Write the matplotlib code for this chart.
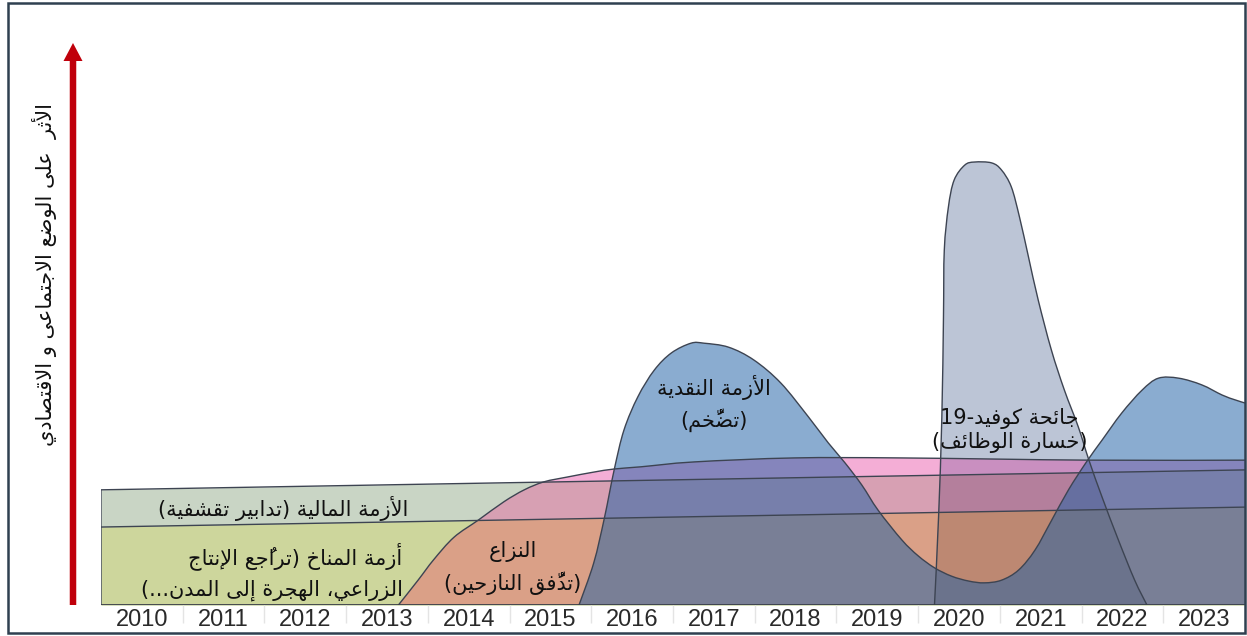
import matplotlib
matplotlib.use("Agg")
import matplotlib.pyplot as plt
from matplotlib.patches import Rectangle, FancyArrow, PathPatch
from matplotlib.path import Path

# ---- data (x in years, y = impact, arbitrary units) ----
years = list(range(2010, 2024))
band_x = [2009.5, 2023.5]

climate_top = [1.76, 2.21]
financial_top = [2.60, 3.05]

conflict_x = [2013.14, 2013.38, 2013.57, 2013.82, 2014.12, 2014.43, 2014.68, 2014.92,
              2015.21, 2015.53, 2015.78, 2016.11, 2016.76, 2017.98, 2019.30, 2021.59, 2023.50]
conflict_y = [0, 0.56, 1.02, 1.53, 1.92, 2.33, 2.60, 2.78,
              2.89, 3.00, 3.07, 3.12, 3.23, 3.32, 3.32, 3.27, 3.27]

monetary_x = [2015.35, 2015.53, 2015.66, 2015.78, 2015.90, 2016.07, 2016.27, 2016.48,
              2016.72, 2016.88, 2017.18, 2017.49, 2017.82, 2018.16, 2018.40, 2018.60,
              2018.81, 2019.01, 2019.30, 2019.50, 2019.70, 2019.91, 2020.12, 2020.31,
              2020.52, 2020.73, 2020.93, 2021.13, 2021.34, 2021.56, 2021.75, 2021.99,
              2022.24, 2022.44, 2022.69, 2022.97, 2023.22, 2023.38, 2023.50]
monetary_y = [0, 0.95, 1.96, 3.05, 3.95, 4.70, 5.30, 5.69,
              5.91, 5.91, 5.82, 5.53, 5.01, 4.24, 3.66, 3.22,
              2.71, 2.14, 1.47, 1.11, 0.84, 0.65, 0.54, 0.50,
              0.56, 0.79, 1.24, 1.90, 2.60, 3.23, 3.72, 4.33,
              4.85, 5.12, 5.12, 4.97, 4.74, 4.63, 4.56]

covid_x = [2019.70, 2019.75, 2019.79, 2019.81, 2019.82, 2019.87, 2019.94, 2020.07,
           2020.19, 2020.40, 2020.52, 2020.64, 2020.74, 2020.85, 2020.97, 2021.13,
           2021.29, 2021.46, 2021.59, 2021.75, 2021.95, 2022.15, 2022.30]
covid_y = [0, 1.99, 4.24, 6.50, 8.01, 8.98, 9.59, 9.93,
           10.0, 9.98, 9.82, 9.44, 8.76, 7.86, 6.88, 5.76,
           4.85, 4.02, 3.27, 2.44, 1.47, 0.56, 0]

ylabel = "الأثر  على الوضع الاجتماعى و الاقتصادي"
financial_label = "الأزمة المالية (تدابير تقشفية)"
climate_label = ["أزمة المناخ (تراجُع الإنتاج", "الزراعي، الهجرة إلى المدن...)"]
conflict_label = ["النزاع", "(تدف\u0651\u064fق النازحين)"]
monetary_label = ["الأزمة النقدية", "(تضخ\u0651\u064fم)"]
covid_label = ["جائحة كوفيد-19", "(خسارة الوظائف)"]


# ---- minimal arabic shaping (matplotlib has no bidi / joining) ----
AR_LETTERS = "ءآأؤإئابةتثجحخدذرزسشصضطظعغفقكلمنهوىي"
AR_NFORMS = [1, 2, 2, 2, 2, 4, 2, 4, 2, 4, 4, 4, 4, 4, 2, 2, 2, 2, 4, 4,
             4, 4, 4, 4, 4, 4, 4, 4, 4, 4, 4, 4, 4, 2, 2, 4]
FORMS = {}
code = 0xFE80
for ch, n in zip(AR_LETTERS, AR_NFORMS):
    FORMS[ch] = (code, n)
    code += n
LAMALEF = {"آ": 0xFEF5, "أ": 0xFEF7, "إ": 0xFEF9, "ا": 0xFEFB}


def joins_next(b):
    return b in FORMS and FORMS[b][1] == 4


def joins_prev(b):
    return len(b) == 2 or (b in FORMS and FORMS[b][1] > 1)


def ar(s):
    units = []
    for ch in s:
        if 0x064B <= ord(ch) <= 0x065F and units:
            units[-1][1] += ch
        elif units and units[-1][0] == "ل" and ch in LAMALEF:
            units[-1][0] = "ل" + ch
        else:
            units.append([ch, ""])
    glyphs = []
    for i, (b, marks) in enumerate(units):
        p = i > 0 and joins_next(units[i - 1][0]) and joins_prev(b)
        n = joins_next(b) and i + 1 < len(units) and joins_prev(units[i + 1][0])
        if len(b) == 2:
            g = chr(LAMALEF[b[1]] + p)
        elif b in FORMS:
            c, nf = FORMS[b]
            if nf == 1:
                g = chr(c)
            elif nf == 2:
                g = chr(c + p)
            else:
                g = chr(c + (3 if p and n else 1 if p else 2 if n else 0))
        else:
            g = b
        glyphs.append(g + marks)
    out = []
    for g in glyphs:
        if g.isdigit() and out and out[-1].isdigit():
            out[-1] += g
        else:
            out.append(g)
    mirror = {"(": ")", ")": "("}
    return "".join(mirror.get(t, t) for t in out[::-1])


# smooth curve through the read points (catmull-rom as bezier segments)
def curve(xs, ys):
    pts = list(zip(xs, ys))
    verts, codes = [pts[0]], [Path.MOVETO]
    for i in range(len(pts) - 1):
        p0 = pts[max(i - 1, 0)]
        p1, p2 = pts[i], pts[i + 1]
        p3 = pts[min(i + 2, len(pts) - 1)]
        verts += [(p1[0] + (p2[0] - p0[0]) / 6, p1[1] + (p2[1] - p0[1]) / 6),
                  (p2[0] - (p3[0] - p1[0]) / 6, p2[1] - (p3[1] - p1[1]) / 6), p2]
        codes += [Path.CURVE4] * 3
    return verts, codes


def area(xs, ys):
    v, c = curve(xs, ys)
    v += [(xs[-1], 0), (xs[0], 0), (xs[0], 0)]
    c += [Path.LINETO, Path.LINETO, Path.CLOSEPOLY]
    return Path(v, c)


# ---- figure ----
fig = plt.figure(figsize=(12.47, 6.36), dpi=100)
ax = fig.add_axes([101 / 1247, 31 / 636, 1144 / 1247, 602 / 636])
ax.set_xlim(band_x)
ax.set_ylim(0, 13.59)

edge = "#3d4452"

fin = ax.fill_between(band_x, 0, financial_top, color="#c9d5c5", lw=0, zorder=1)
clim = ax.fill_between(band_x, 0, climate_top, color="#cdd69c", lw=0, zorder=1.1)
fin_path = fin.get_paths()[0]
clim_path = clim.get_paths()[0]

# conflict: colour depends on which band lies beneath
conf_path = area(conflict_x, conflict_y)
for clip, col, z in [(None, "#f4aed6", 2), (fin_path, "#d7a0b3", 2.1),
                     (clim_path, "#daa087", 2.2)]:
    p = ax.add_patch(PathPatch(conf_path, facecolor=col, lw=0, zorder=z))
    if clip is not None:
        p.set_clip_path(clip, ax.transData)

# covid
covid_path = area(covid_x, covid_y)
for clip, col, z in [(None, "#bcc5d6", 3), (conf_path, "#c98fc0", 3.1),
                     (fin_path, "#b47f9c", 3.2), (clim_path, "#bd8872", 3.3)]:
    p = ax.add_patch(PathPatch(covid_path, facecolor=col, lw=0, zorder=z))
    if clip is not None:
        p.set_clip_path(clip, ax.transData)

# monetary crisis, translucent
ax.add_patch(PathPatch(area(monetary_x, monetary_y), facecolor="#2061a5", alpha=0.52,
                       lw=0, zorder=4))

# outlines
lk = dict(color=edge, lw=1.0, zorder=5, solid_joinstyle="round")
ax.plot([band_x[0], band_x[0], band_x[1]], [0, financial_top[0], financial_top[1]], **lk)
ax.plot(band_x, climate_top, **lk)
for xs, ys in [(conflict_x, conflict_y), (monetary_x, monetary_y), (covid_x, covid_y)]:
    ax.add_patch(PathPatch(Path(*curve(xs, ys)), fill=False, edgecolor=edge, lw=1.0,
                           zorder=5))
ax.plot(band_x, [0, 0], color="#3a3f4a", lw=1.3, zorder=5)

# labels
tk = dict(fontsize=15, color="#111111", zorder=6, family="DejaVu Sans")
ax.text(2017.00, 4.92, ar(monetary_label[0]), ha="center", va="center", **tk)
ax.text(2017.00, 4.18, ar(monetary_label[1]), ha="center", va="center", **tk)
ax.text(2020.62, 4.22, ar(covid_label[0]), ha="center", va="center", **tk)
ax.text(2020.62, 3.66, ar(covid_label[1]), ha="center", va="center", **tk)
ax.text(2014.54, 1.20, ar(conflict_label[0]), ha="center", va="center", **tk)
ax.text(2014.54, 0.50, ar(conflict_label[1]), ha="center", va="center", **tk)
ax.text(2011.73, 2.17, ar(financial_label), ha="center", va="center", **tk)
ax.text(2013.19, 1.11, ar(climate_label[0]), ha="right", va="center", **tk)
ax.text(2013.19, 0.34, ar(climate_label[1]), ha="right", va="center", **tk)

# year axis
ax.set_xticks(years)
ax.set_xticklabels([str(y) for y in years], fontsize=17, color="#2a2a2a",
                   family="Liberation Sans")
ax.tick_params(axis="x", length=0, pad=3)
ax.set_yticks([])
for s in ax.spines.values():
    s.set_visible(False)
ax.vlines([y + 0.5 for y in years[:-1]], -0.03, 0, transform=ax.get_xaxis_transform(),
          color="#e4e4e4", lw=1, clip_on=False)

# arrow, axis title, frame
fig.add_artist(FancyArrow(0.73, 0.31, 0, 5.62, width=0.065, head_width=0.19,
                          head_length=0.18, length_includes_head=True,
                          color="#c0000b", lw=0, transform=fig.dpi_scale_trans))
fig.text(45 / 1247, 1 - 274 / 636, ar(ylabel), rotation=90, ha="center", va="center",
         fontsize=15, color="#111111", family="DejaVu Sans")
fig.add_artist(Rectangle((8 / 1247, 3 / 636), 1237 / 1247, 630 / 636, fill=False,
                         edgecolor="#2f4050", lw=1.8, transform=fig.transFigure))

fig.savefig("out.png", dpi=100)
